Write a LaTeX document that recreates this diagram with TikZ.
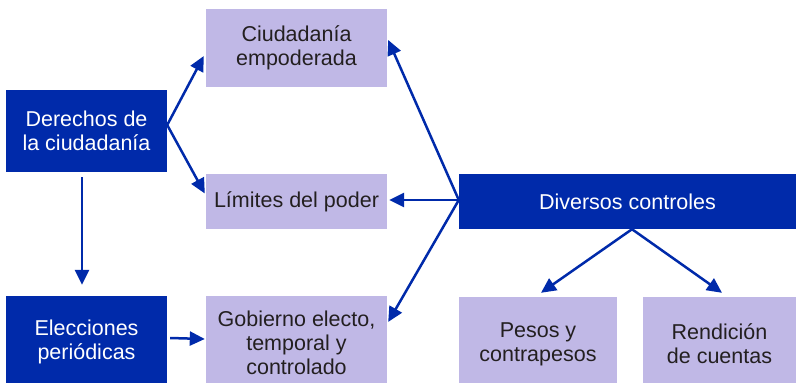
\documentclass[tikz,border=0pt]{standalone}
\usepackage{fontspec}
\setmainfont{Liberation Sans}
\usetikzlibrary{arrows.meta}
\definecolor{dkblue}{HTML}{002AAA}
\definecolor{lilac}{HTML}{C0B8E6}
\definecolor{txt}{HTML}{231F20}
\tikzset{
  dark/.style={fill=dkblue, text=white, draw=none, align=center, inner sep=0pt, font=\fontsize{21.5}{24}\selectfont},
  light/.style={fill=lilac, text=txt, draw=none, align=center, inner sep=0pt, font=\fontsize{21.5}{24}\selectfont},
  arr/.style={draw=dkblue, line width=2.5pt, -{Triangle[length=15pt,width=14pt]}}
}
\begin{document}
\begin{tikzpicture}[x=1pt,y=-1pt]
\useasboundingbox (0,0) rectangle (796,383);
\node[dark, minimum width=161pt, minimum height=82pt] (der) at (86.5,131) {Derechos de\\la ciudadanía};
\node[light, minimum width=181pt, minimum height=78pt] (ciud) at (296.5,48) {Ciudadanía\\empoderada};
\node[light, minimum width=181pt, minimum height=55pt] (lim) at (296.5,201.5) {Límites del poder};
\node[dark, minimum width=337pt, minimum height=55pt] (div) at (627.5,201.5) {Diversos controles};
\node[dark, minimum width=161pt, minimum height=92pt] (ele) at (86.5,342) {Elecciones\\periódicas};
\node[light, minimum width=181pt, minimum height=94pt] (gob) at (296.5,343) {Gobierno electo,\\temporal y\\controlado};
\node[light, minimum width=158pt, minimum height=94pt] (pes) at (538,344) {Pesos y\\contrapesos};
\node[light, minimum width=153pt, minimum height=94pt] (ren) at (719.5,344) {Rendición\\de cuentas};
\coordinate (d0) at ([yshift=6pt]der.east);
\draw[arr] (d0) -- ([xshift=-2pt,yshift=-8pt]ciud.west);
\draw[arr] (d0) -- ([xshift=-1pt,yshift=8pt]lim.west);
\draw[arr] ([xshift=-4.5pt,yshift=-5pt]der.south) -- ([xshift=-4.5pt,yshift=11pt]ele.north);
\draw[arr] ([xshift=3pt,yshift=4pt]ele.east) -- ([xshift=-1pt,yshift=4pt]gob.west);
\coordinate (v0) at ([yshift=1.5pt]div.west);
\draw[arr] (v0) -- ([xshift=2pt,yshift=1.5pt]lim.east);
\draw[arr] (v0) -- ([xshift=1pt,yshift=8pt]ciud.east);
\draw[arr] (v0) -- ([xshift=1pt,yshift=21pt]gob.east);
\coordinate (v1) at ([xshift=4.5pt]div.south);
\draw[arr] (v1) -- ([xshift=3pt,yshift=4pt]pes.north);
\draw[arr] (v1) -- ([xshift=2.5pt,yshift=4pt]ren.north);
\end{tikzpicture}
\end{document}
